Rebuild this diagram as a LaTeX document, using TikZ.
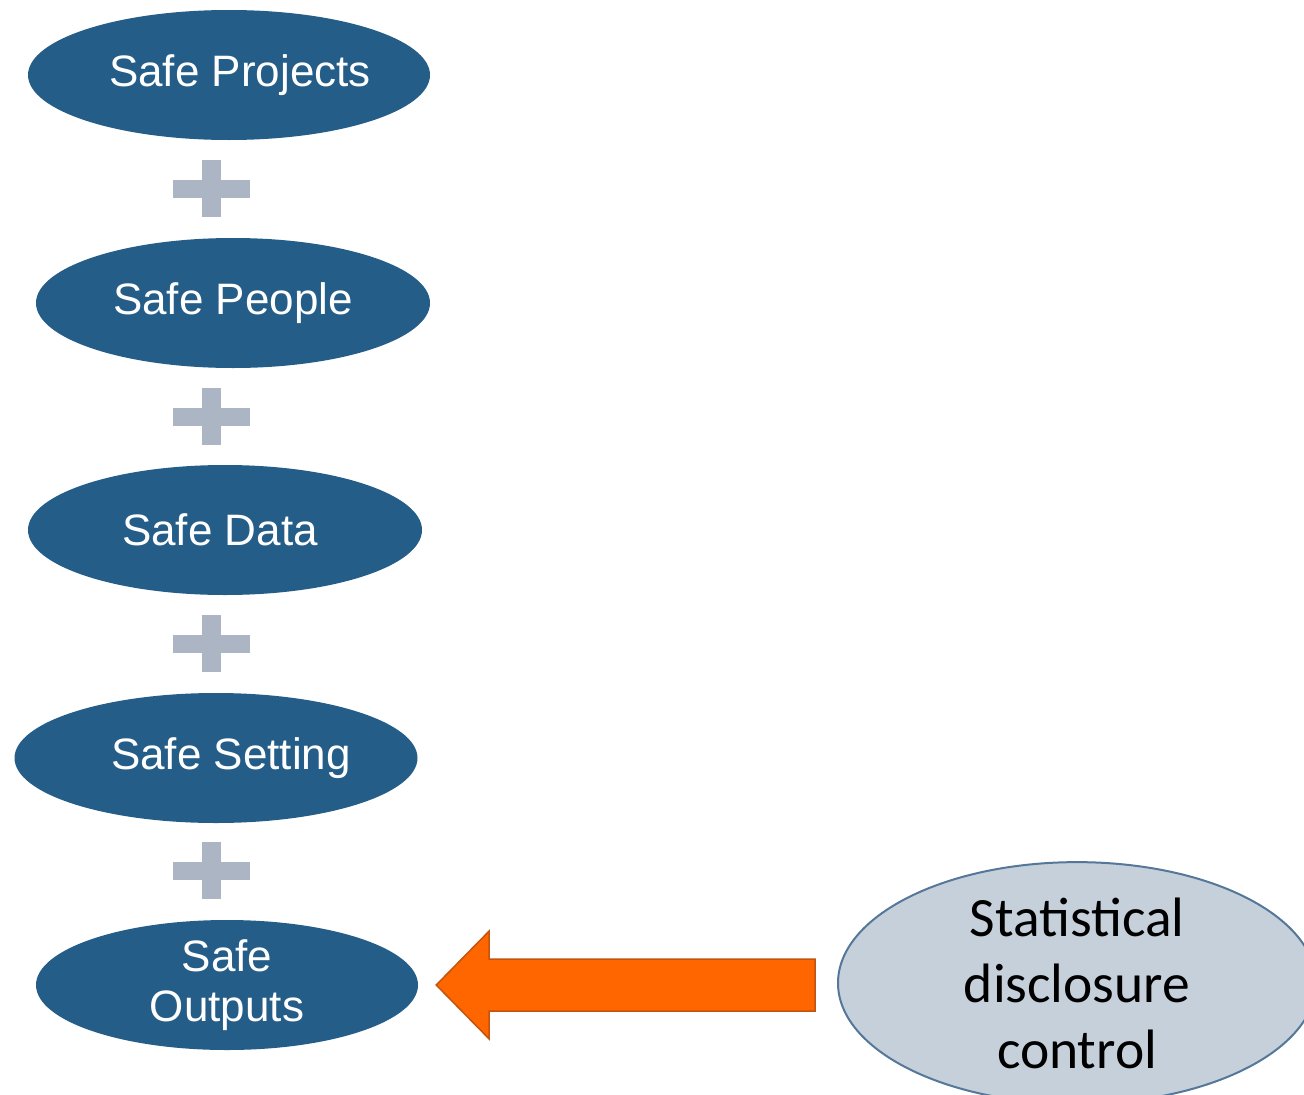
\documentclass[tikz,border=0pt]{standalone}
\usepackage{fontspec}
\usetikzlibrary{shapes.geometric,calc}
\newfontfamily\arialf{Liberation Sans}
\newfontfamily\calf{Carlito}
\definecolor{safeblue}{HTML}{255D89}
\definecolor{plusgray}{HTML}{ACB5C4}
\definecolor{arroworange}{HTML}{FF6600}
\definecolor{arrowedge}{HTML}{C2540F}
\definecolor{sdcfill}{HTML}{C6D0DB}
\definecolor{sdcedge}{HTML}{55779A}
\tikzset{
  safe/.style={ellipse, fill=safeblue, draw=none, inner sep=0pt, text=white,
    font=\arialf\fontsize{44}{50}\selectfont, align=center},
  sdcbox/.style={ellipse, fill=sdcfill, draw=sdcedge, line width=2pt, inner sep=0pt,
    text=black, font=\calf\fontsize{55.5}{66}\selectfont, align=center,
    minimum width=478pt, minimum height=222pt},
  plussign/.style={fill=plusgray, draw=none},
  bigarrow/.style={fill=arroworange, draw=arrowedge, line width=1.5pt, line join=miter}
}
\begin{document}
\begin{tikzpicture}[x=1pt,y=1pt]
\useasboundingbox (0,0) rectangle (1304,-1095);
\clip (0,0) rectangle (1304,-1095);
\node[safe, minimum width=402pt, minimum height=130pt] (proj) at (229,-75) {\hspace*{22pt}Safe Projects};
\node[safe, minimum width=394pt, minimum height=130pt] (peop) at (233,-303) {Safe People};
\node[safe, minimum width=394pt, minimum height=130pt] (data) at (225,-530) {\hspace*{-10pt}Safe Data};
\node[safe, minimum width=403pt, minimum height=130pt] (sett) at (216,-758) {\hspace*{30pt}Safe Setting};
\node[safe, minimum width=382pt, minimum height=130pt] (outp) at (227,-985) {Safe\\Outputs};
\node[sdcbox] (sdc) at (1077,-983) {Statistical\\disclosure\\control};
% plus signs
\foreach \y in {-188.5,-416.5,-643.5,-870.5}{
  \fill[plussign] (173,\y+9) rectangle (250,\y-9);
  \fill[plussign] (202,\y+28.5) rectangle (221,\y-28.5);
}
% arrow from SDC to Safe Outputs
\draw[bigarrow] ([xshift=18pt]outp.east) -- ++(53,54) -- ++(0,-28)
  -- ([xshift=-22pt]sdc.west |- 0,-959) -- ++(0,-52)
  -- ([xshift=71pt,yshift=-26pt]outp.east) -- ++(0,-28) -- cycle;
\end{tikzpicture}
\end{document}
